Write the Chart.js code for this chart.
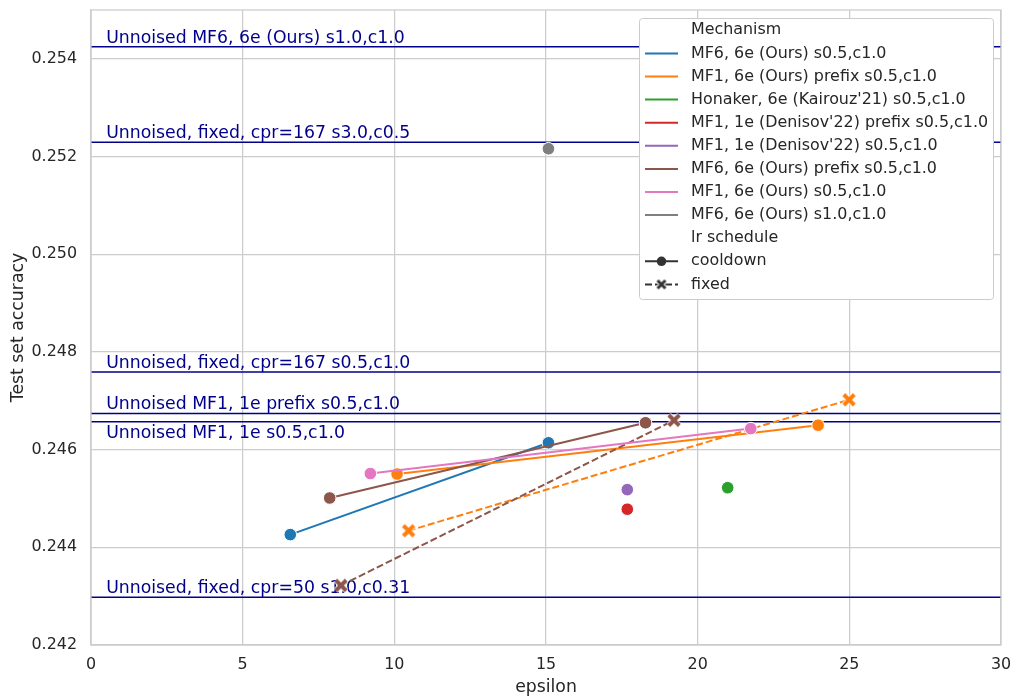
<!DOCTYPE html>
<html>
<head>
<meta charset="utf-8">
<script src="https://cdn.jsdelivr.net/npm/chart.js@4/dist/chart.umd.min.js"></script>
<style>
  body { margin: 0; background: #fff; }
  canvas { display: block; }
</style>
</head>
<body>
<canvas id="graph_eps" width="1011" height="698"></canvas>
<script>
/*------------------------------*/
/*            Data              */
/*------------------------------*/
var mechanisms = [
    'MF6, 6e (Ours) s0.5,c1.0',
    'MF1, 6e (Ours) prefix s0.5,c1.0',
    "Honaker, 6e (Kairouz'21) s0.5,c1.0",
    "MF1, 1e (Denisov'22) prefix s0.5,c1.0",
    "MF1, 1e (Denisov'22) s0.5,c1.0",
    'MF6, 6e (Ours) prefix s0.5,c1.0',
    'MF1, 6e (Ours) s0.5,c1.0',
    'MF6, 6e (Ours) s1.0,c1.0'
]
var schedules = ['cooldown', 'fixed']

// lr schedule = cooldown
var epsCooldown = [[6.57, 15.08], [10.09, 23.97], [20.99], [17.68], [17.68], [7.87, 18.28], [9.21, 21.75], [15.08]]
var accCooldown = [[0.24426, 0.24614], [0.24550, 0.24650], [0.24522], [0.24478], [0.24518], [0.24501, 0.24655], [0.24551, 0.24643], [0.25216]]

// lr schedule = fixed
var epsFixed = [[], [10.47, 24.99], [], [], [], [8.24, 19.22], [], []]
var accFixed = [[], [0.24434, 0.24702], [], [], [], [0.24322, 0.24660], [], []]

// unnoised baselines
var refLabels = [
    'Unnoised MF6, 6e (Ours) s1.0,c1.0',
    'Unnoised, fixed, cpr=167 s3.0,c0.5',
    'Unnoised, fixed, cpr=167 s0.5,c1.0',
    'Unnoised MF1, 1e prefix s0.5,c1.0',
    'Unnoised MF1, 1e s0.5,c1.0',
    'Unnoised, fixed, cpr=50 s1.0,c0.31'
]
var refAcc = [0.25425, 0.25229, 0.24759, 0.24674, 0.24657, 0.24298]

var xTicks = [0, 5, 10, 15, 20, 25, 30]
var yTicks = [0.242, 0.244, 0.246, 0.248, 0.250, 0.252, 0.254]

/*------------------------------*/
/*            Styles            */
/*------------------------------*/
var palette = ['#1f77b4', '#ff7f0e', '#2ca02c', '#d62728', '#9467bd', '#8c564b', '#e377c2', '#7f7f7f']
var refColor = '#00008b'
var refBelow = [false, false, false, false, true, false]
var textColor = '#262626'
var gridColor = '#cccccc'
var FONT = 'DejaVu Sans'
var SMALL = 15.9, LARGE = 17.3

function makeX(color, size, lw) {
    var c = document.createElement('canvas')
    c.width = size; c.height = size
    var g = c.getContext('2d')
    var a = size * 0.17, b = size - a
    function stroke(w, col) {
        g.strokeStyle = col; g.lineWidth = w; g.lineCap = 'butt'
        g.beginPath()
        g.moveTo(a, a); g.lineTo(b, b)
        g.moveTo(b, a); g.lineTo(a, b)
        g.stroke()
    }
    stroke(lw + 1.6, '#ffffff')
    stroke(lw, color)
    return c
}

/*------------------------------*/
/*           Datasets           */
/*------------------------------*/
var datasets = []

refAcc.forEach(function (v, i) {
    datasets.push({
        label: refLabels[i],
        data: [{x: xTicks[0], y: v}, {x: xTicks[xTicks.length - 1], y: v}],
        showLine: true,
        borderColor: refColor,
        borderWidth: 1.5,
        pointRadius: 0,
        order: 100
    })
})

mechanisms.forEach(function (name, i) {
    datasets.push({
        label: name + ' cooldown',
        data: epsCooldown[i].map(function (e, k) { return {x: e, y: accCooldown[i][k]} }),
        showLine: true,
        borderColor: palette[i],
        backgroundColor: palette[i],
        borderWidth: 2,
        pointRadius: 6.3,
        pointBorderColor: '#ffffff',
        pointBorderWidth: 1,
        order: 20 - i
    })
    if (epsFixed[i].length) {
        datasets.push({
            label: name + ' fixed',
            data: epsFixed[i].map(function (e, k) { return {x: e, y: accFixed[i][k]} }),
            showLine: true,
            borderColor: palette[i],
            backgroundColor: palette[i],
            borderWidth: 2,
            borderDash: [7, 3],
            pointStyle: makeX(palette[i], 16, 4),
            pointRadius: 8,
            order: 20 - i
        })
    }
})

/*------------------------------*/
/*           Plugins            */
/*------------------------------*/
var refTextPlugin = {
    id: 'refText',
    beforeDatasetsDraw: function (chart) {
        var ctx = chart.ctx, xs = chart.scales.x, ys = chart.scales.y
        ctx.save()
        ctx.font = LARGE + 'px "' + FONT + '"'
        ctx.fillStyle = refColor
        ctx.textAlign = 'left'
        ctx.textBaseline = 'alphabetic'
        refAcc.forEach(function (v, i) {
            var py = ys.getPixelForValue(v)
            ctx.fillText(refLabels[i], xs.getPixelForValue(0.5), refBelow[i] ? py + 16 : py - 4)
        })
        ctx.restore()
    }
}

var framePlugin = {
    id: 'frame',
    afterDatasetsDraw: function (chart) {
        var ctx = chart.ctx, a = chart.chartArea
        ctx.save()
        ctx.strokeStyle = gridColor
        ctx.lineWidth = 1.25
        ctx.strokeRect(a.left, a.top, a.right - a.left, a.bottom - a.top)
        ctx.restore()
    }
}

var legendPlugin = {
    id: 'seabornLegend',
    afterDraw: function (chart) {
        var ctx = chart.ctx, a = chart.chartArea
        var w = 354, h = 281
        var x0 = a.right - 8 - w, y0 = a.top + 8
        var rowH = 23.1
        ctx.save()
        ctx.fillStyle = '#ffffff'
        ctx.strokeStyle = gridColor
        ctx.lineWidth = 1
        ctx.beginPath()
        ctx.roundRect(x0 + 0.5, y0 + 0.5, w, h, 3)
        ctx.fill()
        ctx.stroke()

        ctx.font = SMALL + 'px "' + FONT + '"'
        ctx.textBaseline = 'middle'
        ctx.textAlign = 'left'
        var hx1 = x0 + 6, hx2 = x0 + 39, tx = x0 + 52
        var row = 0
        function rowY() { return y0 + 12.3 + row * rowH }

        ctx.fillStyle = textColor
        ctx.fillText('Mechanism', tx, rowY()); row++
        mechanisms.forEach(function (name, i) {
            var y = rowY()
            ctx.strokeStyle = palette[i]; ctx.lineWidth = 2
            ctx.beginPath(); ctx.moveTo(hx1, y); ctx.lineTo(hx2, y); ctx.stroke()
            ctx.fillStyle = textColor
            ctx.fillText(name, tx, y)
            row++
        })
        ctx.fillText('lr schedule', tx, rowY()); row++
        schedules.forEach(function (s, k) {
            var y = rowY(), mx = (hx1 + hx2) / 2
            ctx.strokeStyle = '#333333'; ctx.lineWidth = 2
            ctx.setLineDash(k === 0 ? [] : [7, 3])
            ctx.beginPath(); ctx.moveTo(hx1, y); ctx.lineTo(hx2, y); ctx.stroke()
            ctx.setLineDash([])
            if (k === 0) {
                ctx.fillStyle = '#333333'
                ctx.beginPath(); ctx.arc(mx, y, 4.8, 0, Math.PI * 2); ctx.fill()
            } else {
                ctx.drawImage(makeX('#333333', 12, 3), mx - 6, y - 6)
            }
            ctx.fillStyle = textColor
            ctx.fillText(s, tx, y)
            row++
        })
        ctx.restore()
    }
}

/*------------------------------*/
/*            Chart             */
/*------------------------------*/
var ctx_eps = document.getElementById('graph_eps').getContext('2d')

var config_eps = {
    type: 'scatter',
    data: { datasets: datasets },
    options: {
        responsive: false,
        animation: false,
        layout: { padding: { left: 0, right: 10, top: 7, bottom: 0 } },
        plugins: {
            legend: { display: false },
            tooltip: { enabled: false }
        },
        scales: {
            x: {
                type: 'linear',
                min: 0,
                max: 30,
                afterBuildTicks: function (s) { s.ticks = xTicks.map(function (v) { return {value: v} }) },
                afterFit: function (s) { s.height = 53; s.paddingLeft = 0; s.paddingRight = 0 },
                grid: { color: gridColor, lineWidth: 1.25, drawTicks: false },
                border: { color: gridColor, width: 1.25 },
                ticks: {
                    color: textColor,
                    padding: 10,
                    maxRotation: 0,
                    font: { family: FONT, size: SMALL },
                    callback: function (v) { return v }
                },
                title: {
                    display: true,
                    text: 'epsilon',
                    color: textColor,
                    padding: { top: 0, bottom: 0 },
                    font: { family: FONT, size: LARGE }
                }
            },
            y: {
                type: 'linear',
                min: 0.242,
                max: 0.255,
                afterBuildTicks: function (s) { s.ticks = yTicks.map(function (v) { return {value: v} }) },
                afterFit: function (s) { s.width = 91; s.paddingTop = 0; s.paddingBottom = 0 },
                grid: { color: gridColor, lineWidth: 1.25, drawTicks: false },
                border: { color: gridColor, width: 1.25 },
                ticks: {
                    color: textColor,
                    padding: 14,
                    font: { family: FONT, size: SMALL },
                    callback: function (v) { return v.toFixed(3) }
                },
                title: {
                    display: true,
                    text: 'Test set accuracy',
                    color: textColor,
                    padding: { top: 8, bottom: 0 },
                    font: { family: FONT, size: LARGE }
                }
            }
        }
    },
    plugins: [refTextPlugin, framePlugin, legendPlugin]
}
var graph_eps = new Chart(ctx_eps, config_eps)
</script>
</body>
</html>
